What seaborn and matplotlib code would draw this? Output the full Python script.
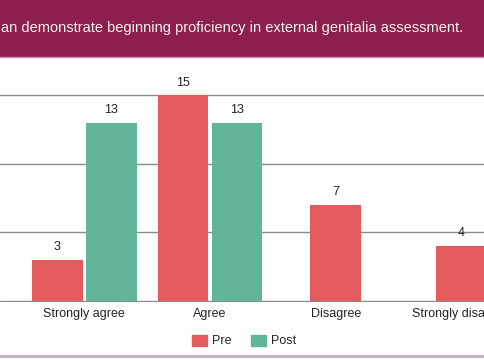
import pandas as pd
import matplotlib.pyplot as plt
import seaborn as sns
from matplotlib.patches import Rectangle, Patch
from matplotlib.lines import Line2D

# Data
categories = ["Strongly agree", "Agree", "Disagree", "Strongly disagree"]
pre_counts = [3, 15, 7, 4]
post_counts = [13, 13, None, None]
groups = ["Pre", "Post"]
title = "an demonstrate beginning proficiency in external genitalia assessment."

colors = {"Pre": "#E45B5E", "Post": "#63B59A"}
maroon = "#8C1F4D"

sns.set_theme(style="white")
plt.rcParams["font.family"] = ["Liberation Sans", "DejaVu Sans"]

rows = []
for cat, a, b in zip(categories, pre_counts, post_counts):
    rows.append((cat, "Pre", a))
    if b is not None:
        rows.append((cat, "Post", b))
df = pd.DataFrame(rows, columns=["Response", "Survey", "Count"])
n_per_cat = df.groupby("Response")["Survey"].transform("count")
paired = df[n_per_cat == 2]
single = df[n_per_cat == 1]

fig = plt.figure(figsize=(4.85, 3.6), dpi=100)
ax = fig.add_axes([0, 0.1614, 1, 0.6114])

# categories with both surveys: dodged pair
sns.barplot(data=paired, x="Response", y="Count", hue="Survey",
            order=categories, hue_order=groups, palette=colors,
            width=0.86, gap=0.06, saturation=1, linewidth=0,
            legend=False, ax=ax)
# categories with only a pre value: single centred bar
sns.barplot(data=single, x="Response", y="Count", hue="Survey",
            order=categories, hue_order=["Pre"], palette=colors,
            dodge=False, width=0.405, saturation=1, linewidth=0,
            legend=False, ax=ax)

for cont in ax.containers:
    labels = []
    for p in cont.patches:
        h = p.get_height()
        labels.append("" if h != h else f"{h:g}")
    ax.bar_label(cont, labels=labels, padding=5, fontsize=9, color="#222222")

ax.set_xlim(-0.671, 3.188)
ax.set_ylim(-0.1, 16)
ax.set_yticks([0, 5, 10, 15])
ax.yaxis.grid(True, color="#8a8a8a", linewidth=1)
ax.set_axisbelow(True)
ax.tick_params(axis="y", left=False, labelleft=False)
ax.tick_params(axis="x", length=0, pad=4.5, labelsize=9, labelcolor="#222222")
ax.set_xlabel("")
ax.set_ylabel("")
for s in ax.spines.values():
    s.set_visible(False)

# title banner
fig.add_artist(Rectangle((0, (360 - 56) / 360), 1, 56 / 360,
                         transform=fig.transFigure, color=maroon, zorder=0))
fig.add_artist(Line2D([0, 1], [(360 - 56.5) / 360] * 2, transform=fig.transFigure,
                      color="#c98aa8", linewidth=1))
fig.text(0.002, (360 - 28) / 360, title, color="#f7f2f4", fontsize=10.5,
         ha="left", va="center")

# bottom rule
fig.add_artist(Line2D([0, 1], [(360 - 356) / 360] * 2, transform=fig.transFigure,
                      color="#cbaebe", linewidth=2))

handles = [Patch(color=colors[g], label=g) for g in groups]
fig.legend(handles=handles, loc="center", bbox_to_anchor=(244 / 485, (360 - 341) / 360),
           ncol=2, frameon=False, fontsize=9, handlelength=1.2, handleheight=1.0,
           handletextpad=0.4, columnspacing=1.6)

fig.savefig("out.png", dpi=100)
plt.close()
